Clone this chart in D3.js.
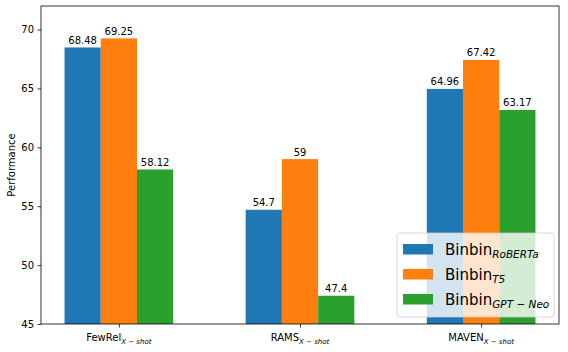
<!DOCTYPE html>
<html>
<head>
<meta charset="utf-8">
<script src="https://cdn.jsdelivr.net/npm/d3@7"></script>
<style>
  body { margin: 0; background: #fff; }
  text { font-family: "DejaVu Sans", sans-serif; fill: #000; }
</style>
</head>
<body>
<div id="chart"></div>
<script>
// data
const datasets = ["FewRel", "RAMS", "MAVEN"];
const models = ["RoBERTa", "T5", "GPT \u2212 Neo"];
const colors = ["#1f77b4", "#ff7f0e", "#2ca02c"];
const robertaScores = [68.48, 54.7, 64.96];
const t5Scores = [69.25, 59, 67.42];
const gptNeoScores = [58.12, 47.4, 63.17];
const yTicks = [45, 50, 55, 60, 65, 70];

const series = [robertaScores, t5Scores, gptNeoScores];

const width = 568, height = 352;
const margin = { left: 41, right: 9, top: 6, bottom: 28 };

const svg = d3.select("#chart").append("svg")
    .attr("width", width)
    .attr("height", height);

const x = d3.scaleLinear()
    .domain([-0.43, 2.43])
    .range([margin.left, width - margin.right]);

const y = d3.scaleLinear()
    .domain([45, 72])
    .range([height - margin.bottom, margin.top]);

const barW = 0.2;

// bars
series.forEach((vals, si) => {
    const g = svg.append("g");
    g.selectAll("rect")
        .data(vals)
        .enter().append("rect")
        .attr("x", (d, i) => x(i + (si - 1) * barW - barW / 2))
        .attr("width", x(barW) - x(0))
        .attr("y", d => y(d))
        .attr("height", d => y(45) - y(d))
        .style("fill", colors[si]);

    g.selectAll("text")
        .data(vals)
        .enter().append("text")
        .attr("x", (d, i) => x(i + (si - 1) * barW))
        .attr("y", d => y(d) - 3.5)
        .attr("text-anchor", "middle")
        .style("font-size", "10px")
        .text(d => d);
});

// y axis
const yAxis = svg.append("g")
    .attr("transform", `translate(${margin.left},0)`)
    .call(d3.axisLeft(y).tickValues(yTicks).tickSize(3.5).tickPadding(3.5));
yAxis.selectAll("text").style("font-size", "10px").style("font-family", "DejaVu Sans");
yAxis.select(".domain").remove();

// x axis
const xAxis = svg.append("g")
    .attr("transform", `translate(0,${height - margin.bottom})`)
    .call(d3.axisBottom(x).tickValues([0, 1, 2]).tickSize(3.5).tickFormat(""));
xAxis.select(".domain").remove();

svg.selectAll(".tick line").style("stroke", "#000").style("stroke-width", 0.8);

datasets.forEach((name, i) => {
    const t = svg.append("text")
        .attr("x", x(i))
        .attr("y", height - margin.bottom + 17)
        .attr("text-anchor", "middle")
        .style("font-size", "10px");
    t.append("tspan").text(name);
    t.append("tspan")
        .attr("dy", 2.5)
        .style("font-size", "7px")
        .style("font-style", "italic")
        .text("X \u2212 shot");
});

// frame
svg.append("rect")
    .attr("x", margin.left)
    .attr("y", margin.top)
    .attr("width", width - margin.left - margin.right)
    .attr("height", height - margin.top - margin.bottom)
    .style("fill", "none")
    .style("stroke", "#000")
    .style("stroke-width", 0.8);

// y label
svg.append("text")
    .attr("transform", `translate(15,${(margin.top + height - margin.bottom) / 2}) rotate(-90)`)
    .attr("text-anchor", "middle")
    .style("font-size", "10px")
    .text("Performance");

// legend
const lg = svg.append("g").attr("transform", "translate(397,233)");
lg.append("rect")
    .attr("width", 157)
    .attr("height", 84)
    .attr("rx", 3)
    .style("fill", "rgba(255,255,255,0.8)")
    .style("stroke", "#ccc")
    .style("stroke-width", 0.8);

models.forEach((m, i) => {
    const row = lg.append("g").attr("transform", `translate(0,${16 + i * 25})`);
    row.append("rect")
        .attr("x", 6)
        .attr("y", -5)
        .attr("width", 30)
        .attr("height", 10.5)
        .style("fill", colors[i]);
    const t = row.append("text")
        .attr("x", 48)
        .attr("y", 5.5)
        .style("font-size", "15px");
    t.append("tspan").text("Binbin");
    t.append("tspan")
        .attr("dy", 3.5)
        .style("font-size", "10.5px")
        .style("font-style", "italic")
        .text(m);
});
</script>
</body>
</html>
